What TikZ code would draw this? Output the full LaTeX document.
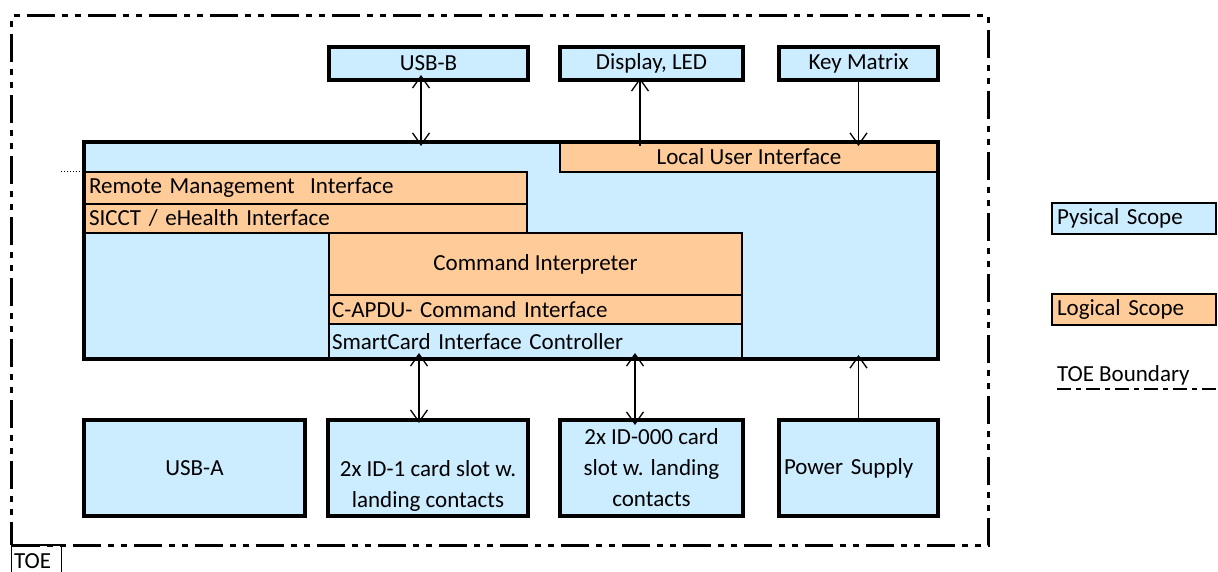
\documentclass[tikz,border=0pt]{standalone}
\usepackage{fontspec}
\setmainfont{Carlito}
\usetikzlibrary{arrows.meta}
\definecolor{pblue}{HTML}{CCECFF}
\definecolor{lorange}{HTML}{FFCC99}
\tikzset{
  basebox/.style={anchor=north west, inner sep=0pt, outer sep=0pt, font=\fontsize{23}{31}\selectfont},
  phys/.style={basebox, draw, line width=3.3pt, fill=pblue},
  inner/.style={basebox, draw, line width=2pt},
  logi/.style={inner, fill=lorange},
  physin/.style={inner, fill=pblue},
  lft/.style={align=left, inner xsep=5pt},
  cen/.style={align=center},
  tip/.style={line width=1.3pt, {Straight Barb[length=12pt,width=17pt,line width=1.3pt]}-{Straight Barb[length=12pt,width=17pt,line width=1.3pt]}},
  uptip/.style={line width=1.3pt, -{Straight Barb[length=12pt,width=17pt,line width=1.3pt]}},
  toeline/.style={line width=3pt, dash pattern=on 28pt off 7pt on 6pt off 7pt on 6pt off 7pt},
}
\begin{document}
\begin{tikzpicture}[x=1pt,y=-1pt]
\useasboundingbox (0,0) rectangle (1218,572);
% TOE boundary
\node[basebox, toeline, draw, minimum width=977pt, minimum height=529pt] (toe) at (11.5,16) {};
\node[basebox, draw, line width=1.5pt, minimum width=50pt, minimum height=34pt] (toelbl) at (11.5,545) {};
\node[basebox, anchor=base west] (toetxt) at (14,568.5) {TOE};

% top boxes
\node[phys, minimum width=199pt, minimum height=33pt] (usbb) at (329,47) {USB-B};
\node[phys, minimum width=183pt, minimum height=33pt] (disp) at (560,47) {Display, LED};
\node[phys, minimum width=159pt, minimum height=33pt] (keym) at (779,47) {Key Matrix};

% main box
\node[basebox, fill=pblue, minimum width=854pt, minimum height=217pt] (main) at (84,142) {};
\node[logi, minimum width=378pt, minimum height=30pt] (lui) at (560,142) {Local User Interface};
\node[logi, lft, minimum width=443pt, minimum height=32pt, text width=433pt] (rmi) at (84,172) {Remote Management~~Interface};
\node[logi, lft, minimum width=443pt, minimum height=29pt, text width=433pt] (sicct) at (84,204) {SICCT / eHealth Interface};
\node[logi, cen, minimum width=413pt, minimum height=62pt] (cmd) at (329,233) {Command Interpreter};
\node[logi, lft, minimum width=413pt, minimum height=29pt, text width=407pt, inner xsep=3pt] (capdu) at (329,295) {C-APDU- Command Interface};
\node[physin, lft, minimum width=413pt, minimum height=35pt, text width=407pt, inner xsep=3pt] (sc) at (329,324) {SmartCard Interface Controller};
\draw[line width=3.3pt] (main.north west) rectangle (main.south east);
\coordinate (dotend) at (61,172);
\draw[line width=1pt, dotted] (dotend) -- (rmi.north west);

% bottom boxes
\node[phys, cen, minimum width=221pt, minimum height=96pt] (usba) at (84,420) {USB-A};
\node[phys, cen, minimum width=200pt, minimum height=96pt] (id1) at (328,420) {\strut\\2x ID-1 card slot w.\\landing contacts};
\node[phys, cen, minimum width=183pt, minimum height=96pt] (id000) at (560,420) {2x ID-000 card\\slot w. landing\\contacts};
\node[phys, lft, minimum width=159pt, minimum height=96pt, text width=149pt, inner xsep=5pt] (psu) at (779,420) {Power Supply};

% arrows
\draw[tip] ([xshift=-7.5pt,yshift=5pt]usbb.south) -- ([xshift=-7.5pt,yshift=-4pt]usbb.south |- main.north);
\draw[uptip] ([xshift=-11.5pt,yshift=-4pt]disp.south |- main.north) -- ([xshift=-11.5pt,yshift=2pt]disp.south);
\draw[uptip] ([yshift=1pt]keym.south) -- ([yshift=-4pt]keym.south |- main.north);
\draw[tip] ([xshift=-9pt,yshift=6pt]id1.north |- main.south) -- ([xshift=-9pt,yshift=-3pt]id1.north);
\draw[tip] ([xshift=-16.5pt,yshift=6pt]id000.north |- main.south) -- ([xshift=-16.5pt,yshift=-5pt]id000.north);
\draw[uptip] ([yshift=-1pt]psu.north) -- ([yshift=4pt]psu.north |- main.south);

% legend
\node[basebox, draw, line width=2.5pt, fill=pblue, lft, minimum width=164pt, minimum height=31pt, text width=154pt] (lphys) at (1052,203) {Pysical Scope};
\node[basebox, draw, line width=2.5pt, fill=lorange, lft, minimum width=164pt, minimum height=31pt, text width=154pt] (llog) at (1052,294) {Logical Scope};
\node[basebox, anchor=base west] (ltoe) at (1057,381) {TOE Boundary};
\coordinate (ltoeend) at (1218,389);
\draw[line width=2pt, dash pattern=on 14pt off 5pt on 5pt off 5pt] (ltoe.west |- ltoeend) -- (ltoeend);
\end{tikzpicture}
\end{document}
